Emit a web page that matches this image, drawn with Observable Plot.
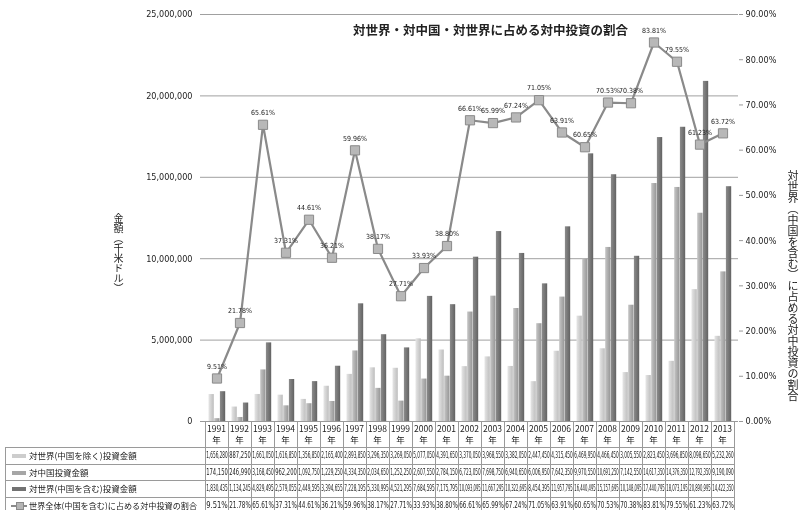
<!DOCTYPE html>
<html><head><meta charset="utf-8">
<script src="https://cdn.jsdelivr.net/npm/d3@7"></script>
<script src="https://cdn.jsdelivr.net/npm/@observablehq/plot@0.6"></script>
<style>
body{margin:0;background:#fff;}
#wrap{position:relative;width:801px;height:510px;overflow:hidden;background:#fff;font-family:"Liberation Sans Narrow","DejaVu Sans Condensed","Noto Sans CJK JP",sans-serif;color:#222;filter:grayscale(1);}
#wrap svg{position:absolute;left:0;top:0;}
.cell{position:absolute;white-space:nowrap;text-align:center;font-size:8px;}
.num span{position:absolute;left:50%;top:0;white-space:nowrap;transform:translateX(-50%);}
.hl{position:absolute;height:1px;background:#9a9a9a;}
.vl{position:absolute;width:1px;background:#9a9a9a;}
.jp{font-family:"Noto Sans CJK JP",sans-serif;}
</style></head>
<body><div id="wrap"></div>
<script>
const years = ["1991","1992","1993","1994","1995","1996","1997","1998","1999","2000","2001","2002","2003","2004","2005","2006","2007","2008","2009","2010","2011","2012","2013"];
const worldExChina = [1656280,887250,1661050,1616850,1356850,2165400,2893850,3296350,3269050,5077050,4391650,3370050,3968550,3382050,2447450,4315450,6469950,4466450,3005550,2823450,3696850,8098650,5232260];
const china = [174150,246990,3168450,962200,1092750,1229250,4334350,2034650,1252250,2607550,2784150,6723050,7698750,6940650,6006950,7642350,9970550,10691250,7142550,14617350,14376350,12792350,9190090];
const worldInChina = [1830435,1134245,4829495,2579055,2449595,3394655,7228195,5330995,4521295,7684595,7175795,10093095,11667295,10322695,8454395,11957795,16440495,15157695,10148095,17440795,18073195,20890995,14422350];
const sharePct = [9.51,21.78,65.61,37.31,44.61,36.21,59.96,38.17,27.71,33.93,38.80,66.61,65.99,67.24,71.05,63.91,60.65,70.53,70.38,83.81,79.55,61.23,63.72];
const leftTicks = [0,5000000,10000000,15000000,20000000,25000000];
const rightTicks = [0,10,20,30,40,50,60,70,80,90];
const pctMax = 90, amtMax = 25000000;
const title = "対世界・対中国・対世界に占める対中投資の割合";
const leftTitle = "金額（千米ドル）";
const rightTitle = "対世界（中国を含む）に占める対中投資の割合";
const seriesNames = ["対世界(中国を除く)投資金額","対中国投資金額","対世界(中国を含む)投資金額","世界全体(中国を含む)に占める対中投資の割合"];
const colors = ["#cdcdcd","#a6a6a6","#727272"];

const rows = years.map((y,i)=>({year:y, ex:worldExChina[i], cn:china[i], all:worldInChina[i], pct:sharePct[i], p2:sharePct[i]/pctMax*amtMax}));

const plot = Plot.plot({
  width: 801, height: 432,
  marginLeft: 200, marginRight: 63, marginTop: 14, marginBottom: 11,
  style: {fontFamily: '"Liberation Sans Narrow","DejaVu Sans Condensed",sans-serif', fontSize: "9px", color: "#222", background: "white"},
  x: {type: "band", domain: years, padding: 0, axis: null},
  y: {domain: [0, amtMax], axis: null},
  marks: [
    Plot.gridY(leftTicks, {stroke: "#a0a0a0", strokeOpacity: 1}),
    Plot.axisY(leftTicks, {anchor: "left", tickSize: 0, tickPadding: 8, tickFormat: d3.format(","), label: null}),
    Plot.axisY(rightTicks.map(p => p/pctMax*amtMax), {anchor: "right", tickSize: 4, tickPadding: 3, stroke: "#999", label: null,
      tickFormat: d => (d/amtMax*pctMax).toFixed(2) + "%"}),
    Plot.barY(rows, {x: "year", y: "ex", fill: "url(#g0)", insetLeft: 3.5, insetRight: 14.2}),
    Plot.barY(rows, {x: "year", y: "cn", fill: "url(#g1)", insetLeft: 9.2, insetRight: 8.5}),
    Plot.barY(rows, {x: "year", y: "all", fill: "url(#g2)", insetLeft: 14.9, insetRight: 2.8}),
    Plot.ruleY([0], {stroke: "#999"}),
    Plot.line(rows, {x: "year", y: "p2", stroke: "#8a8a8a", strokeWidth: 2.2}),
    Plot.dot(rows, {x: "year", y: "p2", symbol: "square", r: 5.2, fill: "#b8b8b8", stroke: "#8a8a8a", strokeWidth: 1}),
    Plot.text(rows, {x: "year", y: "p2", text: d => d.pct.toFixed(2) + "%", dy: -12, fontSize: 7, fill: "#222"})
  ]
});
// gradients for bars
const grads = [["#e6e6e6","#bdbdbd"],["#c6c6c6","#959595"],["#8c8c8c","#626262"]];
const defs = d3.select(plot).insert("defs", ":first-child");
grads.forEach((g,i)=>{
  const lg = defs.append("linearGradient").attr("id","g"+i).attr("x1","0").attr("x2","1").attr("y1","0").attr("y2","0");
  lg.append("stop").attr("offset","0%").attr("stop-color",g[0]);
  lg.append("stop").attr("offset","100%").attr("stop-color",g[1]);
});
const wrap = document.getElementById("wrap");
wrap.appendChild(plot);

function add(cls, css, html){ const d=document.createElement("div"); d.className=cls; Object.assign(d.style, css); if(html!=null) d.innerHTML=html; wrap.appendChild(d); return d; }

// titles
add("jp", {position:"absolute", left:"353px", top:"20px", fontSize:"12.5px", fontWeight:"bold", whiteSpace:"nowrap"}, title);
add("jp", {position:"absolute", left:"112px", top:"213px", fontSize:"10px", writingMode:"vertical-rl", lineHeight:"12px"}, leftTitle);
add("jp", {position:"absolute", left:"786px", top:"170px", fontSize:"11px", writingMode:"vertical-rl", lineHeight:"13px"}, rightTitle);

// table
const xs = plot.scale("x");
const bw = xs.bandwidth;
const x1 = xs.apply(years[years.length-1]) + bw;
const top0 = 421, headH = 26, rowH = 16.5;
const rowTops = [0,1,2,3].map(i => top0 + headH + i*rowH);
const fmt = d3.format(",");
years.forEach((y,i)=>{
  const L = xs.apply(y);
  add("cell jp", {left: L+"px", top: (top0+2)+"px", width: bw+"px", fontSize:"8.5px", lineHeight:"11px"}, y + "<br>年");
  const vals = [fmt(worldExChina[i]), fmt(china[i]), fmt(worldInChina[i]), sharePct[i].toFixed(2)+"%"];
  vals.forEach((v,k)=>{
    const d = add("cell num", {left: L+"px", top: (rowTops[k]+3)+"px", width: bw+"px", height:"11px", fontSize:"8px", lineHeight:"11px"}, "<span>"+v+"</span>");
    const sp = d.querySelector("span");
    const w = sp.getBoundingClientRect().width;
    const k2 = Math.min(1, (bw - 1.5) / w);
    sp.style.transform = "translateX(-50%) scaleX(" + k2.toFixed(3) + ")";
  });
});
for (let i=0;i<=years.length;i++){
  const X = i<years.length ? xs.apply(years[i]) : x1;
  add("vl", {left: (X-0.5)+"px", top: top0+"px", height: (510-top0)+"px"});
}
rowTops.forEach(t => add("hl", {left:"5px", top:(t)+"px", width:(x1-5)+"px"}));
add("vl", {left:"5px", top: rowTops[0]+"px", height:(510-rowTops[0])+"px"});
seriesNames.forEach((s,k)=>{
  const t = rowTops[k];
  if (k < 3) {
    add("", {position:"absolute", left:"12px", top:(t+7)+"px", width:"14px", height:"4px", background: colors[k]});
  } else {
    add("", {position:"absolute", left:"11px", top:(t+8)+"px", width:"16px", height:"2px", background: "#8a8a8a"});
    add("", {position:"absolute", left:"15.5px", top:(t+5)+"px", width:"6px", height:"6px", background: "#b5b5b5", border:"1px solid #8a8a8a"});
  }
  const d = add("cell jp", {left:"29px", top:(t+2)+"px", textAlign:"left", fontSize:"8.5px", lineHeight:"13px"}, "<span style='display:inline-block;transform-origin:0 50%'>"+s+"</span>");
  const sp = d.querySelector("span");
  const w = sp.getBoundingClientRect().width;
  if (w > 168) sp.style.transform = "scaleX(" + (168/w).toFixed(3) + ")";
});
</script></body></html>
